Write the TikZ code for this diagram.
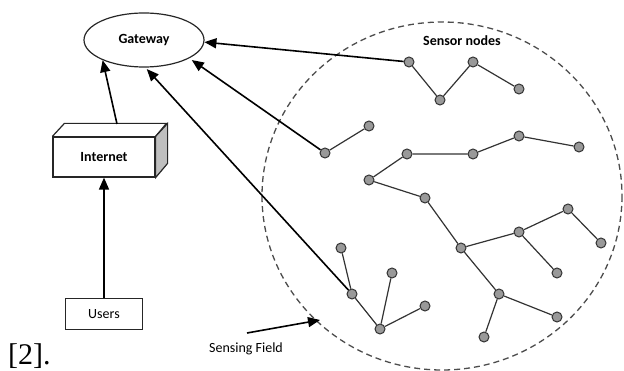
\documentclass[tikz,border=0pt]{standalone}
\usepackage{fontspec}
\setmainfont{Carlito}
\newfontfamily\refserif{Liberation Serif}
\usetikzlibrary{shapes.geometric,arrows.meta}
\begin{document}
\begin{tikzpicture}[x=1pt,y=-1pt,
  sn/.style={circle,draw=black!80,fill=black!40,line width=1pt,inner sep=0pt,minimum size=10pt},
  edge/.style={draw=black!80,line width=1.2pt},
  bigarrow/.style={draw=black,line width=1.6pt,-{Triangle[length=12pt,width=10pt]}},
  lbl/.style={font=\fontsize{14}{16}\selectfont}
]
\useasboundingbox (0,0) rectangle (624,371);
% sensing field
\draw[black!70,line width=1.3pt,dash pattern=on 6pt off 4pt] (442,196) ellipse [x radius=180,y radius=174];
\node[lbl,font=\fontsize{14}{16}\selectfont\bfseries] (snl) at (462,41) {Sensor nodes};
% gateway
\node[ellipse,draw=black!85,line width=1.2pt,minimum width=120pt,minimum height=54pt,inner sep=0pt,font=\fontsize{14}{16}\selectfont\bfseries] (gw) at (144,40) {Gateway};
% internet box
\node[draw=black!85,line width=1.2pt,minimum width=102pt,minimum height=40pt,inner sep=0pt,font=\fontsize{14}{16}\selectfont\bfseries] (inet) at (104,157) {Internet};
\draw[black!85,line width=1.2pt] (inet.north west) -- ++(12,-13) -- ++(102,0) -- (inet.north east);
\draw[black!85,line width=1.2pt,fill=black!25] (inet.north east) -- ++(12,-13) -- ++(0,40) -- (inet.south east) -- cycle;
\coordinate (inettop) at (117,124);
% users
\node[draw=black!85,line width=1.2pt,minimum width=77pt,minimum height=31pt,inner sep=0pt,lbl] (users) at (104,314) {Users};
% reference
\node[anchor=base west,inner sep=0pt,font=\refserif\fontsize{30}{32}\selectfont] (ref) at (8,364) {[2].};
% sensing field label
\node[lbl] (sfl) at (246,349) {Sensing Field};
\coordinate (sfa) at (247,333);
\coordinate (sfb) at (320,320);
% sensor nodes
\path
 (409,62) coordinate (pA1) (440,100) coordinate (pA2) (473,62) coordinate (pA3) (519,89) coordinate (pA4)
 (325,153) coordinate (pB1) (369,126) coordinate (pB2)
 (369,180) coordinate (pC1) (407,154) coordinate (pC2) (473,154) coordinate (pC3) (519,136) coordinate (pC4) (579,147) coordinate (pC5)
 (425,198) coordinate (pD1) (461,248) coordinate (pD2) (519,232) coordinate (pD3) (568,209) coordinate (pD4) (601,243) coordinate (pD5)
 (557,273) coordinate (pD6) (499,294) coordinate (pD7) (557,317) coordinate (pD8) (484,337) coordinate (pD9)
 (341,248) coordinate (pE1) (352,294) coordinate (pE2) (392,273) coordinate (pE3) (380,329) coordinate (pE4) (425,306) coordinate (pE5);
\foreach \n in {A1,A2,A3,A4,B1,B2,C1,C2,C3,C4,C5,D1,D2,D3,D4,D5,D6,D7,D8,D9,E1,E2,E3,E4,E5}
  \node[sn] (\n) at (p\n) {};
% tree edges
\draw[edge] (A1)--(A2) (A2)--(A3) (A3)--(A4)
 (B1)--(B2)
 (C1)--(C2) (C2)--(C3) (C3)--(C4) (C4)--(C5)
 (C1)--(D1) (D1)--(D2) (D2)--(D3) (D3)--(D4) (D4)--(D5) (D3)--(D6) (D2)--(D7) (D7)--(D8) (D7)--(D9)
 (E1)--(E2) (E2)--(E4) (E4)--(E3) (E4)--(E5);
% arrows
\draw[bigarrow] (A1) -- (gw.-2);
\draw[bigarrow,shorten >=3pt] (B1) -- (gw.-22);
\draw[bigarrow,shorten >=2pt] (E2) -- (gw.-87);
\draw[bigarrow] (inettop) -- (gw.-154);
\draw[bigarrow] (users.north) -- (inet.south);
\draw[bigarrow] (sfa) -- (sfb);
\end{tikzpicture}
\end{document}
